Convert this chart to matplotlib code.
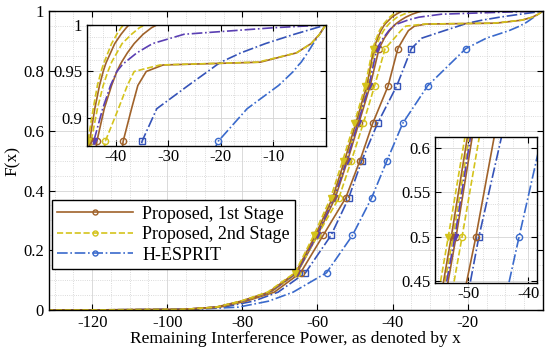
import matplotlib
matplotlib.use('Agg')
import matplotlib.pyplot as plt
from matplotlib.ticker import MultipleLocator, FormatStrFormatter

plt.rcParams['font.family'] = ['Liberation Serif', 'DejaVu Serif']
plt.rcParams['axes.unicode_minus'] = False

# CDF levels and the x value where each curve reaches them
F_levels = [0, 0.002, 0.01, 0.03, 0.06, 0.125, 0.25, 0.375, 0.5, 0.625, 0.75, 0.875,
            0.91, 0.935, 0.95, 0.957, 0.96, 0.97, 0.98, 0.99, 0.997, 1.0]
marker_idx = [5, 6, 7, 8, 9, 10, 11]

# Proposed, 1st stage (brown, solid)
p1_tri = [-132, -96, -87, -80.3, -73.0, -65.8, -60.6, -56.0, -52.8, -49.8, -46.9, -45.0,
          -44.0, -43.1, -42.4, -42.0, -41.8, -41.0, -40.2, -39.0, -38.0, -37.5]
p1_sq = [-132, -96, -86.5, -79.8, -72.5, -65.4, -60.0, -55.3, -52.0, -49.0, -46.0, -43.6,
         -42.2, -40.8, -39.8, -39.2, -38.9, -37.8, -36.5, -34.8, -33.2, -32.2]
p1_circ = [-132, -95.5, -86, -79, -71.5, -64.5, -58.5, -52.5, -48.7, -45.3, -41.2, -38.6,
           -37.0, -35.8, -34.2, -31.0, -12.5, -5.6, -2.8, -1.2, -0.4, 0.0]

# Proposed, 2nd stage (yellow, dashed)
p2_tri = [-132, -96, -87, -80.5, -73.3, -66.0, -61.0, -56.5, -53.3, -50.2, -47.3, -45.3,
          -44.3, -43.5, -42.8, -42.4, -42.2, -41.5, -40.8, -39.8, -39.0, -38.5]
p2_sq = [-132, -96, -86.8, -80.0, -72.8, -65.6, -60.4, -55.8, -52.5, -49.5, -46.6, -44.7,
         -43.5, -42.4, -41.5, -41.0, -40.8, -39.8, -38.8, -37.0, -35.5, -34.5]
p2_circ = [-132, -96, -86.5, -79.8, -72.5, -65.4, -60.0, -54.3, -51.0, -47.8, -44.8, -42.0,
           -39.5, -37.8, -36.5, -31.6, -13.0, -5.6, -2.8, -1.2, -0.4, 0.0]

# H-ESPRIT (blue, dash-dot)
he_tri = [-132, -96, -86.8, -80.0, -72.7, -65.5, -60.2, -55.6, -52.2, -49.3, -46.3, -44.2,
          -42.5, -41.0, -39.8, -38.8, -38.2, -36.0, -33.0, -27.0, -10.0, 0.0]
he_sq = [-132, -95, -85, -77, -70.5, -63.2, -56.4, -51.7, -48.2, -44.0, -38.9, -35.0,
         -32.2, -26.2, -22.5, -20.8, -20.0, -16.2, -11.5, -6.0, -1.8, 0.0]
he_circ = [-132, -94, -81, -73, -66.5, -57.6, -50.7, -45.6, -41.5, -37.3, -30.7, -20.5,
           -15.0, -9.0, -6.2, -5.2, -4.7, -3.5, -2.4, -1.2, -0.4, 0.0]

brown = '#a0622a'
yellow = '#d4c31c'

curves = [
    (p1_sq, brown, '-', 'o', None),
    (p2_sq, yellow, '--', 'o', None),
    (he_sq, '#3553b8', '-.', 's', None),
    (he_circ, '#3a6acc', '-.', 'o', 'H-ESPRIT'),
    (p1_circ, brown, '-', 'o', 'Proposed, 1st Stage'),
    (p2_circ, yellow, '--', 'o', 'Proposed, 2nd Stage'),
    (he_tri, '#5a3fb3', '-.', 'v', None),
    (p1_tri, brown, '-', 'v', None),
    (p2_tri, yellow, '--', 'v', None),
]


def draw_curves(ax, ms=4.5):
    handles = {}
    for xs, col, ls, mk, lab in curves:
        face = col if mk == 'v' else 'none'
        line, = ax.plot(xs, F_levels, color=col, ls=ls, lw=1.2, marker=mk,
                        markevery=marker_idx, ms=ms, mfc=face, mec=col, mew=1.0)
        if lab:
            handles[lab] = line
    return handles


def style_axes(ax, size=12):
    ax.grid(True, which='major', color='#d4d4d4', lw=0.6)
    ax.grid(True, which='minor', color='#cfcfcf', lw=0.6, ls=':')
    ax.tick_params(which='both', direction='in', top=True, right=True, labelsize=size)
    ax.tick_params(which='minor', length=0)
    ax.tick_params(which='major', length=4)
    for s in ax.spines.values():
        s.set_linewidth(1.0)
    ax.set_axisbelow(True)


fig = plt.figure(figsize=(5.5, 3.5), dpi=100)
ax = fig.add_axes([0.089, 0.114, 0.898, 0.854])
handles = draw_curves(ax)
ax.set_xlim(-131.5, 0)
ax.set_ylim(0, 1)
ax.set_xticks([-120, -100, -80, -60, -40, -20])
ax.set_yticks([0, 0.2, 0.4, 0.6, 0.8, 1.0])
ax.xaxis.set_minor_locator(MultipleLocator(5))
ax.yaxis.set_minor_locator(MultipleLocator(0.05))
ax.yaxis.set_major_formatter(FormatStrFormatter('%g'))
style_axes(ax)
ax.set_xlabel('Remaining Interference Power, as denoted by x', fontsize=12.5, labelpad=0)
ax.set_ylabel('F(x)', fontsize=12.5, labelpad=2)

leg_order = ['Proposed, 1st Stage', 'Proposed, 2nd Stage', 'H-ESPRIT']
leg = ax.legend([handles[k] for k in leg_order], leg_order, loc='lower left',
                bbox_to_anchor=(0.006, 0.137), borderaxespad=0, fontsize=13,
                fancybox=False, framealpha=1, edgecolor='black', handlelength=4.2,
                borderpad=0.3, labelspacing=0.2, handletextpad=0.5, markerscale=0.8)
leg.get_frame().set_linewidth(1.0)

# top-left zoom on the upper tail
ax1 = fig.add_axes([0.158, 0.583, 0.4345, 0.3457])
draw_curves(ax1)
ax1.set_xlim(-45.5, 0)
ax1.set_ylim(0.87, 1.0)
ax1.set_xticks([-40, -30, -20, -10])
ax1.set_yticks([0.9, 0.95, 1.0])
ax1.xaxis.set_minor_locator(MultipleLocator(2.5))
ax1.yaxis.set_minor_locator(MultipleLocator(0.0125))
ax1.yaxis.set_major_formatter(FormatStrFormatter('%g'))
style_axes(ax1)
ax1.tick_params(axis='x', pad=2)

# bottom-right zoom around the median
ax2 = fig.add_axes([0.791, 0.191, 0.1855, 0.417])
draw_curves(ax2)
ax2.set_xlim(-55.5, -38.5)
ax2.set_ylim(0.448, 0.612)
ax2.set_xticks([-50, -40])
ax2.set_yticks([0.45, 0.5, 0.55, 0.6])
ax2.xaxis.set_minor_locator(MultipleLocator(2.5))
ax2.yaxis.set_minor_locator(MultipleLocator(0.0125))
ax2.yaxis.set_major_formatter(FormatStrFormatter('%g'))
style_axes(ax2)
ax2.tick_params(axis='x', pad=2)

fig.savefig('out.png', dpi=100)
